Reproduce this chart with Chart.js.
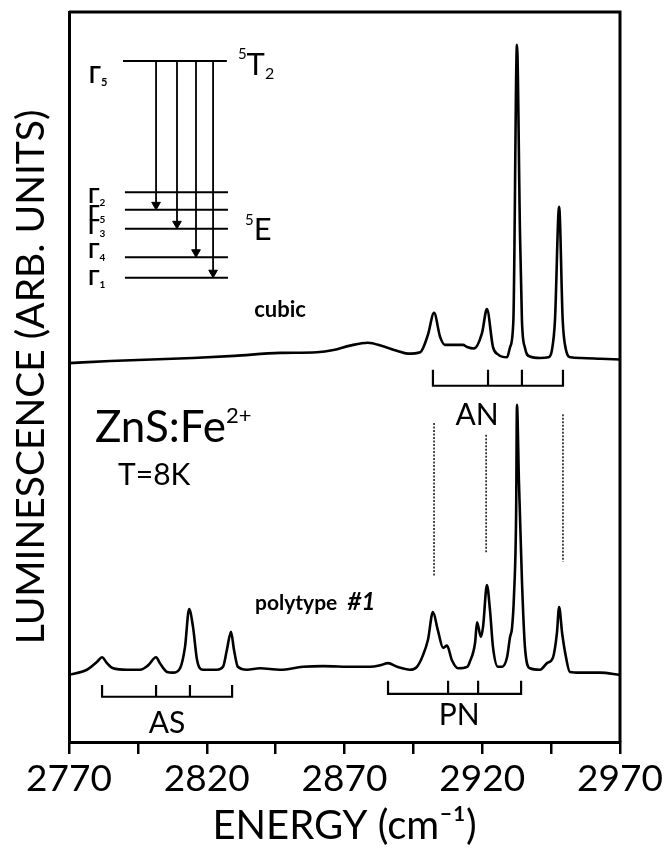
<!DOCTYPE html>
<html>
<head>
<meta charset="utf-8">
<script src="https://cdn.jsdelivr.net/npm/chart.js@4"></script>
<style>
html, body { margin: 0; padding: 0; background: #fff; }
</style>
</head>
<body>
<canvas id="chart" width="668" height="853"></canvas>
<script>
// x range and tick labels
const xMin = 2770
const xMax = 2970
const xStep = 25
const xLabels = [2770, 2820, 2870, 2920, 2970]

// cubic spectrum (upper trace)
const cubicEnergy = [2770, 2785, 2800, 2815, 2830, 2846.6, 2860, 2866, 2872, 2878.5,
  2884, 2889, 2893, 2897.5, 2900.3, 2902.5, 2904.7, 2906.5, 2913, 2914.5,
  2917, 2919.9, 2921.7, 2923.9, 2925.7, 2929, 2930.1, 2931.3, 2932.6, 2933.7,
  2934.4, 2935.5, 2937.3, 2941, 2944, 2945.3, 2946.4, 2947.9, 2949.2, 2950.4,
  2952, 2956, 2963, 2970]
const cubicIntensity = [51.9, 52.2, 52.4, 52.6, 52.9, 53.3, 53.4, 53.7, 54.3, 54.7,
  54.2, 53.6, 53.2, 53.4, 55.8, 58.8, 55.5, 54.4, 54.4, 54.1,
  53.9, 56.0, 59.3, 54.1, 53.1, 52.7, 54.1, 57.8, 95.5, 69.7,
  57.8, 54.0, 52.8, 52.6, 52.7, 53.7, 57.8, 73.3, 57.8, 53.7,
  52.7, 52.6, 52.5, 52.4]

// polytype #1 spectrum (lower trace)
const polyEnergy = [2770, 2776.5, 2780.2, 2782, 2783.8, 2786, 2791.1, 2795.8, 2798.7, 2801.6,
  2803, 2805.6, 2807.7, 2810.3, 2812.1, 2813.6, 2815, 2816.5, 2818.6, 2823.7,
  2825.9, 2827.3, 2828.8, 2829.9, 2831.3, 2834.6, 2839.3, 2846.6, 2854.9, 2862.2,
  2873.1, 2879.3, 2882.9, 2885.8, 2889.1, 2893.8, 2896.3, 2898.5, 2900.3, 2902.1,
  2903.9, 2905.8, 2907.2, 2909, 2911.2, 2914.5, 2915.5, 2917.4, 2918.1, 2919.5,
  2920.3, 2921.7, 2922.8, 2923.9, 2925.7, 2927.2, 2929, 2930.1, 2930.8, 2931.5,
  2932.3, 2932.6, 2933.3, 2934.4, 2935.5, 2937.3, 2941, 2943.5, 2945.7, 2947.1,
  2947.9, 2949, 2950.4, 2951.8, 2955.5, 2962.7, 2970]
const polyIntensity = [9.2, 9.9, 11.0, 11.6, 10.8, 10.1, 9.9, 9.9, 10.5, 11.6,
  10.8, 9.6, 9.5, 10.1, 13.0, 18.2, 15.8, 11.2, 9.9, 9.9,
  10.3, 12.6, 15.1, 12.6, 10.3, 9.9, 10.1, 9.9, 10.3, 10.4,
  10.3, 10.3, 10.5, 10.8, 10.3, 9.9, 10.3, 11.9, 14.0, 17.8,
  15.3, 12.9, 13.2, 11.2, 10.1, 10.3, 11.0, 13.6, 16.4, 14.4,
  15.8, 21.5, 18.1, 13.0, 10.3, 10.3, 11.6, 14.4, 15.6, 19.9,
  31.4, 46.2, 35.9, 22.2, 13.0, 10.1, 9.9, 10.8, 11.6, 14.9,
  18.5, 14.9, 11.6, 9.6, 9.5, 9.5, 9.2]

// line assignment combs
const asTicks = [2782.0, 2801.6, 2813.9, 2829.2]
const pnTicks = [2885.8, 2907.6, 2918.5, 2934.1]
const anTicks = [2902.1, 2922.1, 2934.4, 2949.3]
const asLevels = [7.8, 6.2]
const pnLevels = [8.4, 6.6]
const anLevels = [51.0, 48.8]

// dotted guide lines
const dottedEnergy = [2902.5, 2921.4, 2949.3]
const dottedTop = [43.7, 42.1, 44.9]
const dottedBottom = [22.6, 25.9, 24.7]

// energy level scheme inset
const upperLevel = 93.3
const upperSpan = [2789.6, 2827.3]
const lowerSpan = [2790.3, 2827.7]
const lowerNames = ['2', '5', '3', '4', '1']
const lowerLevels = [75.3, 72.9, 70.3, 66.4, 63.6]
const lowerLabelBase = [73.8, 71.5, 69.6, 66.3, 62.6]
const arrowEnergy = [2801.6, 2809.2, 2816.1, 2822.3]
const arrowTarget = [72.9, 70.3, 66.4, 63.6]

const FONT = 'Lato, "Open Sans", sans-serif'
const PX_PER_UNIT = 7.3
const HEAD = 5

const pts = (xs, ys) => xs.map((x, i) => ({x, y: ys[i]}))

function comb(ticks, levels) {
  const [top, bottom] = levels
  const d = [
    {x: ticks[0], y: top}, {x: ticks[0], y: bottom},
    {x: ticks[3], y: bottom}, {x: ticks[3], y: top}
  ]
  ticks.slice(1, 3).forEach(t => {
    d.push({x: t, y: null}, {x: t, y: bottom}, {x: t, y: top})
  })
  return d
}

const plain = (data, width) => ({
  data,
  borderColor: '#000',
  borderWidth: width,
  pointRadius: 0,
  tension: 0,
  spanGaps: false,
  fill: false
})

const datasets = [
  Object.assign(plain(pts(cubicEnergy, cubicIntensity), 2.6), {cubicInterpolationMode: 'monotone'}),
  Object.assign(plain(pts(polyEnergy, polyIntensity), 2.6), {cubicInterpolationMode: 'monotone'}),
  plain(comb(asTicks, asLevels), 2.2),
  plain(comb(pnTicks, pnLevels), 2.2),
  plain(comb(anTicks, anLevels), 2.2)
]

dottedEnergy.forEach((e, i) => {
  datasets.push(Object.assign(plain([{x: e, y: dottedTop[i]}, {x: e, y: dottedBottom[i]}], 1.4), {borderDash: [2, 1.5]}))
})

datasets.push(plain([{x: upperSpan[0], y: upperLevel}, {x: upperSpan[1], y: upperLevel}], 2))
lowerLevels.forEach(v => {
  datasets.push(plain([{x: lowerSpan[0], y: v}, {x: lowerSpan[1], y: v}], 2))
})
arrowEnergy.forEach((e, i) => {
  const headY = arrowTarget[i] + HEAD / PX_PER_UNIT
  datasets.push(Object.assign(plain([{x: e, y: upperLevel}, {x: e, y: headY}], 1.8), {
    pointRadius: [0, HEAD],
    pointStyle: 'triangle',
    pointRotation: 180,
    pointBackgroundColor: '#000',
    pointBorderColor: '#000',
    pointBorderWidth: 1
  }))
})

// text annotations, anchored in data coordinates
const notes = [
  {e: 2805.6, v: 1.2, align: 'center', parts: [['AS', 30]]},
  {e: 2911.6, v: 2.3, align: 'center', parts: [['PN', 30]]},
  {e: 2918.1, v: 43.4, align: 'center', parts: [['AN', 30]]},
  {e: 2779.4, v: 41.1, align: 'left', parts: [['ZnS:Fe', 44], ['2+', 22, -19]]},
  {e: 2787.8, v: 35.2, align: 'left', parts: [['T=8K', 30]]},
  {e: 2837.2, v: 58.2, align: 'left', parts: [['cubic', 22, 0, 'bold']]},
  {e: 2837.5, v: 18.1, align: 'left', parts: [['polytype  ', 21, 0, 'bold'], ['#1', 24, 0, 'bold italic']]},
  {e: 2831.3, v: 91.4, align: 'left', parts: [['5', 15, -16], ['T', 31], ['2', 16, 4]]},
  {e: 2833.9, v: 68.8, align: 'left', parts: [['5', 15, -15], ['E', 31]]},
  {e: 2777.2, v: 90.3, align: 'left', parts: [['Γ', 22, 0, 'bold'], ['5', 11, 3, 'bold']]}
]
lowerNames.forEach((n, i) => {
  notes.push({e: 2776.9, v: lowerLabelBase[i], align: 'left', parts: [['Γ', 21, 0, 'bold'], [n, 10, 3, 'bold']]})
})

const framePlugin = {
  id: 'frame',
  beforeDatasetsDraw(chart) {
    const {ctx, chartArea: a} = chart
    ctx.save()
    ctx.strokeStyle = '#000'
    ctx.lineWidth = 3
    ctx.beginPath()
    ctx.moveTo(a.left, a.top)
    ctx.lineTo(a.right, a.top)
    ctx.lineTo(a.right, a.bottom)
    ctx.stroke()
    ctx.restore()
  }
}

const notesPlugin = {
  id: 'notes',
  afterDatasetsDraw(chart) {
    const {ctx, scales: {x, y}} = chart
    ctx.save()
    ctx.fillStyle = '#000'
    ctx.textBaseline = 'alphabetic'
    ctx.textAlign = 'left'
    notes.forEach(n => {
      const font = p => (p[3] || 'normal') + ' ' + p[1] + 'px ' + FONT
      let total = 0
      n.parts.forEach(p => { ctx.font = font(p); total += ctx.measureText(p[0]).width })
      let px = x.getPixelForValue(n.e)
      if (n.align === 'center') px -= total / 2
      const py = y.getPixelForValue(n.v)
      n.parts.forEach(p => {
        ctx.font = font(p)
        ctx.fillText(p[0], px, py + (p[2] || 0))
        px += ctx.measureText(p[0]).width
      })
    })
    ctx.restore()
  }
}

new Chart(document.getElementById('chart'), {
  type: 'line',
  data: {datasets},
  plugins: [framePlugin, notesPlugin],
  options: {
    responsive: false,
    animation: false,
    layout: {padding: {top: 12, right: 48, left: 0, bottom: 0}},
    plugins: {legend: {display: false}, tooltip: {enabled: false}},
    scales: {
      x: {
        type: 'linear',
        min: xMin,
        max: xMax,
        afterFit: s => { s.height = 111 },
        ticks: {
          stepSize: xStep,
          autoSkip: false,
          maxRotation: 0,
          padding: 3,
          color: '#000',
          font: {family: FONT, size: 37},
          callback: v => xLabels.includes(v) ? String(v) : ''
        },
        grid: {display: true, drawOnChartArea: false, drawTicks: true, tickLength: 12, color: '#000', lineWidth: 2.5},
        border: {display: true, width: 3, color: '#000'},
        title: {display: true, text: 'ENERGY (cm⁻¹)', color: '#000', font: {family: FONT, size: 40}, padding: {top: 0, bottom: 3}}
      },
      y: {
        type: 'linear',
        min: 0,
        max: 100,
        afterFit: s => { s.width = 69 },
        ticks: {display: false},
        grid: {display: false},
        border: {display: true, width: 3, color: '#000'},
        title: {display: true, text: 'LUMINESCENCE (ARB. UNITS)', color: '#000', font: {family: FONT, size: 39}, padding: {top: 8, bottom: 0}}
      }
    }
  }
})
</script>
</body>
</html>
